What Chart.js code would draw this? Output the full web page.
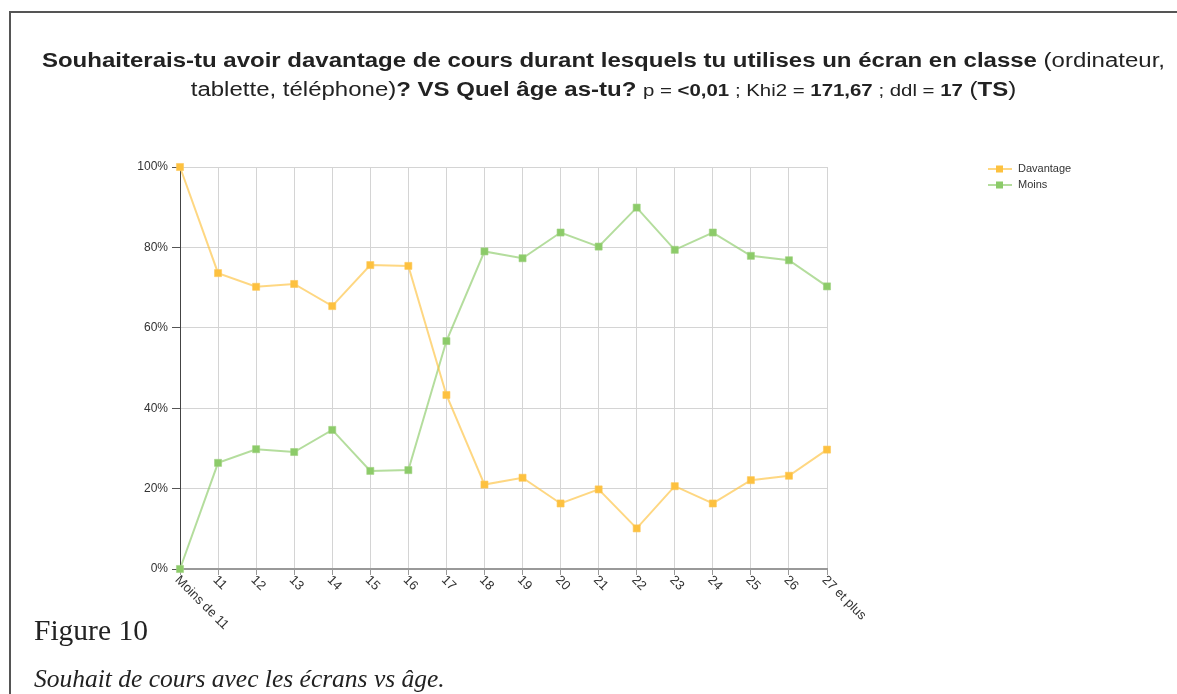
<!DOCTYPE html>
<html>
<head>
<meta charset="utf-8">
<script src="https://cdn.jsdelivr.net/npm/chart.js@4/dist/chart.umd.min.js"></script>
<style>
  html, body { margin: 0; padding: 0; background: #fff; }
  body { width: 1177px; height: 694px; position: relative; overflow: hidden; }
  .frame { position: absolute; left: 9px; top: 11px; right: -5px; bottom: -5px; border-top: 2px solid #555; border-left: 2px solid #555; }
  .title { position: absolute; left: 15px; width: 1177px; top: 46px; text-align: center; font-family: "Liberation Sans", Arial, sans-serif; font-size: 20px; line-height: 29px; color: #222; transform: scaleX(1.2); transform-origin: 50% 0; }
  .title b { font-weight: bold; }
  .title .st { font-size: 17px; }
  .fig { position: absolute; left: 34px; top: 614px; font-family: "Liberation Serif", "Times New Roman", serif; font-size: 29.5px; color: #222; }
  .cap { position: absolute; left: 34px; top: 664px; font-family: "Liberation Serif", "Times New Roman", serif; font-style: italic; font-size: 25.5px; color: #222; }
  #wrap { position: absolute; left: 0; top: 0; width: 1177px; height: 694px; }
</style>
</head>
<body>
<div class="frame"></div>
<div id="wrap"><canvas id="myChart"></canvas></div>
<div class="title">
  <b>Souhaiterais-tu avoir davantage de cours durant lesquels tu utilises un écran en classe</b> (ordinateur,<br>
  tablette, téléphone)<b>? VS Quel âge as-tu?</b> <span class="st">p = <b>&lt;0,01</b> ; Khi2 = <b>171,67</b> ; ddl = <b>17</b></span> (<b>TS</b>)
</div>
<div class="fig">Figure 10</div>
<div class="cap">Souhait de cours avec les écrans vs âge.</div>
<script>
const ctx = document.getElementById('myChart');

// données
const ages = ['Moins de 11', '11', '12', '13', '14', '15', '16', '17', '18', '19', '20', '21', '22', '23', '24', '25', '26', '27 et plus'];
const davantage = [100, 73.6, 70.2, 70.9, 65.4, 75.6, 75.4, 43.3, 21.0, 22.7, 16.3, 19.8, 10.1, 20.6, 16.3, 22.1, 23.2, 29.7];
const moins = [0, 26.4, 29.8, 29.1, 34.6, 24.4, 24.6, 56.7, 79.0, 77.3, 83.7, 80.2, 89.9, 79.4, 83.7, 77.9, 76.8, 70.3];
const yTicks = [0, 20, 40, 60, 80, 100];

const orange = '#fdc13f';
const green = '#8ccb69';

// étiquettes de l'axe x, tournées vers le bas
const ageLabels = {
  id: 'ageLabels',
  afterDraw(chart) {
    const c = chart.ctx;
    const x = chart.scales.x;
    c.save();
    c.font = '13px "Liberation Sans", Arial, sans-serif';
    c.fillStyle = '#333';
    c.textAlign = 'left';
    c.textBaseline = 'middle';
    chart.data.labels.forEach((lbl, i) => {
      const px = x.getPixelForTick(i);
      c.save();
      c.translate(px - 3, x.bottom + 3);
      c.rotate(Math.PI / 4);
      c.fillText(lbl, 0, 0);
      c.restore();
    });
    c.restore();
  }
};

// légende en haut à droite
const sideLegend = {
  id: 'sideLegend',
  afterDraw(chart) {
    const c = chart.ctx;
    c.save();
    c.font = '11px "Liberation Sans", Arial, sans-serif';
    c.textBaseline = 'middle';
    chart.data.datasets.forEach((ds, i) => {
      const y = 169 + i * 16;
      c.strokeStyle = ds.borderColor;
      c.lineWidth = 2;
      c.beginPath();
      c.moveTo(988, y);
      c.lineTo(1012, y);
      c.stroke();
      c.fillStyle = ds.pointBackgroundColor;
      c.fillRect(996, y - 3.5, 7, 7);
      c.fillStyle = '#333';
      c.fillText(ds.label, 1018, y);
    });
    c.restore();
  }
};

new Chart(ctx, {
  type: 'line',
  data: {
    labels: ages,
    datasets: [{
      label: 'Davantage',
      data: davantage,
      borderColor: 'rgba(253, 193, 63, 0.65)',
      backgroundColor: orange,
      pointBackgroundColor: orange,
      pointBorderColor: 'rgba(253, 200, 90, 0.6)',
      borderWidth: 2,
      pointStyle: 'rect',
      pointRadius: 5,
      pointBorderWidth: 1,
      tension: 0,
      clip: false
    }, {
      label: 'Moins',
      data: moins,
      borderColor: 'rgba(140, 203, 105, 0.65)',
      backgroundColor: green,
      pointBackgroundColor: green,
      pointBorderColor: 'rgba(160, 210, 130, 0.6)',
      borderWidth: 2,
      pointStyle: 'rect',
      pointRadius: 5,
      pointBorderWidth: 1,
      tension: 0,
      clip: false
    }]
  },
  options: {
    responsive: true,
    maintainAspectRatio: false,
    animation: false,
    layout: { padding: { left: 120, right: 350, top: 167, bottom: 119 } },
    plugins: {
      legend: { display: false },
      title: { display: false },
      tooltip: { enabled: false }
    },
    scales: {
      x: {
        offset: false,
        afterFit(scale) { scale.height = 6; },
        ticks: { display: false },
        grid: {
          color: '#d4d4d4',
          borderDash: [1, 2],
          tickBorderDash: [],
          tickColor: '#999',
          tickLength: 6,
          tickWidth: 1
        },
        border: { color: '#999', width: 2 }
      },
      y: {
        min: 0,
        max: 100,
        afterFit(scale) { scale.width = 60; },
        afterBuildTicks(scale) { scale.ticks = yTicks.map(v => ({ value: v })); },
        ticks: {
          padding: 4,
          color: '#333',
          font: { family: '"Liberation Sans", Arial, sans-serif', size: 12 },
          callback: v => v + '%'
        },
        grid: {
          color: '#d4d4d4',
          borderDash: [1, 2],
          tickBorderDash: [],
          tickColor: '#555',
          tickLength: 8,
          tickWidth: 1
        },
        border: { color: '#444', width: 1 }
      }
    }
  },
  plugins: [ageLabels, sideLegend]
});
</script>
</body>
</html>
